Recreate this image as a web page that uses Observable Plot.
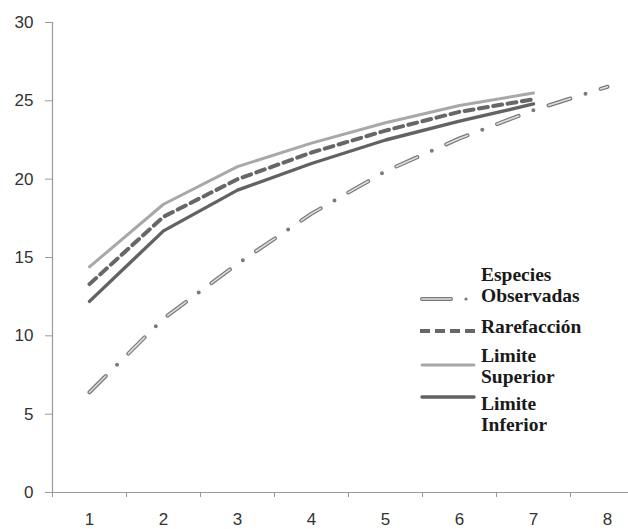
<!DOCTYPE html>
<html><head><meta charset="utf-8">
<script src="https://cdn.jsdelivr.net/npm/d3@7"></script>
<script src="https://cdn.jsdelivr.net/npm/@observablehq/plot@0.6"></script>
<style>
body{margin:0;background:#fff}
#wrap{position:relative;width:628px;height:529px;overflow:hidden}
#legend{position:absolute;left:0;top:0;pointer-events:none}
#wrap svg:not(#legend) text{font-size:17px !important;font-family:"Liberation Sans",Arial,sans-serif}
</style>
</head><body><div id="wrap"></div>
<script>
const muestras = [1, 2, 3, 4, 5, 6, 7, 8];
const especiesObservadas = [6.4, 11.1, 14.6, 17.8, 20.5, 22.6, 24.4, 25.9];
const rarefaccion = [13.3, 17.6, 20.0, 21.7, 23.1, 24.3, 25.1];
const limiteSuperior = [14.4, 18.4, 20.8, 22.3, 23.6, 24.7, 25.5];
const limiteInferior = [12.2, 16.7, 19.3, 21.0, 22.5, 23.7, 24.8];
const yTicks = [0, 5, 10, 15, 20, 25, 30];
const xTickLabels = [1, 2, 3, 4, 5, 6, 7, 8];
const xTickMarks = [0.5, 1.5, 2.5, 3.5, 4.5, 5.5, 6.5, 7.5];
const legendLabels = [["Especies", "Observadas"], ["Rarefacción"], ["Limite", "Superior"], ["Limite", "Inferior"]];

const rows = (vals) => vals.map((v, i) => ({x: muestras[i], y: v}));

const chart = Plot.plot({
  width: 628,
  height: 529,
  marginLeft: 52,
  marginTop: 22,
  marginBottom: 37,
  marginRight: 0,
  style: {background: "#fff", color: "#333"},
  x: {domain: [0.5, 8.5], range: [52, 644]},
  y: {domain: [0, 30]},
  marks: [
    Plot.ruleX([0.5], {stroke: "#9a9a9a", strokeWidth: 1.2}),
    Plot.ruleY([0], {stroke: "#9a9a9a", strokeWidth: 1.2}),
    Plot.axisY({ticks: yTicks, tickSize: 7, tickPadding: 12, stroke: "#9a9a9a", fill: "#333", label: null}),
    Plot.axisX({ticks: xTickMarks, tickSize: 5, tickFormat: () => "", stroke: "#9a9a9a", label: null}),
    Plot.axisX({ticks: xTickLabels, tickSize: 0, tickPadding: 20.5, fill: "#333", label: null}),
    Plot.line(rows(limiteSuperior), {x: "x", y: "y", stroke: "#a8a8a8", strokeWidth: 3, strokeLinecap: "round"}),
    Plot.line(rows(limiteInferior), {x: "x", y: "y", stroke: "#626262", strokeWidth: 3.4, strokeLinecap: "round"}),
    Plot.line(rows(rarefaccion), {x: "x", y: "y", stroke: "#676767", strokeWidth: 4, strokeDasharray: "9,5.5"}),
    Plot.line(rows(especiesObservadas), {x: "x", y: "y", stroke: "#7a7a7a", strokeWidth: 4, strokeLinecap: "round", strokeDasharray: "23,15.85,0,15.85"}),
    Plot.line(rows(especiesObservadas), {x: "x", y: "y", stroke: "#dedede", strokeWidth: 1.6, strokeLinecap: "round", strokeDasharray: "23,31.7"})
  ]
});
document.getElementById("wrap").appendChild(chart);

// Legend overlay
const ns = "http://www.w3.org/2000/svg";
const lg = document.createElementNS(ns, "svg");
lg.setAttribute("id", "legend");
lg.setAttribute("width", 628);
lg.setAttribute("height", 529);
const mk = (tag, attrs) => { const e = document.createElementNS(ns, tag); for (const k in attrs) e.setAttribute(k, attrs[k]); lg.appendChild(e); return e; };
const sampleY = [299, 331, 365, 397];
const textY = [[281, 302], [333], [362, 383], [410, 431]];
const sx1 = 422, sx2 = 474, tx = 481;
// Especies Observadas sample
mk("line", {x1: sx1, x2: 451, y1: sampleY[0], y2: sampleY[0], stroke: "#7a7a7a", "stroke-width": 4, "stroke-linecap": "round"});
mk("line", {x1: sx1, x2: 451, y1: sampleY[0], y2: sampleY[0], stroke: "#dedede", "stroke-width": 1.6, "stroke-linecap": "round"});
mk("circle", {cx: 466, cy: sampleY[0], r: 1.6, fill: "#777"});
// Rarefacción
mk("line", {x1: sx1 - 2, x2: sx2 + 2, y1: sampleY[1], y2: sampleY[1], stroke: "#676767", "stroke-width": 4, "stroke-dasharray": "10,5"});
// Limite Superior
mk("line", {x1: sx1, x2: sx2, y1: sampleY[2], y2: sampleY[2], stroke: "#a8a8a8", "stroke-width": 3, "stroke-linecap": "round"});
// Limite Inferior
mk("line", {x1: sx1, x2: sx2, y1: sampleY[3], y2: sampleY[3], stroke: "#626262", "stroke-width": 3.4, "stroke-linecap": "round"});
legendLabels.forEach((lines, i) => {
  lines.forEach((s, j) => {
    const t = mk("text", {x: tx, y: textY[i][j], "font-family": "Liberation Serif, Times New Roman, serif", "font-weight": "bold", "font-size": 19.5, fill: "#1a1a1a"});
    t.textContent = s;
  });
});
document.getElementById("wrap").appendChild(lg);
</script>
</body></html>
